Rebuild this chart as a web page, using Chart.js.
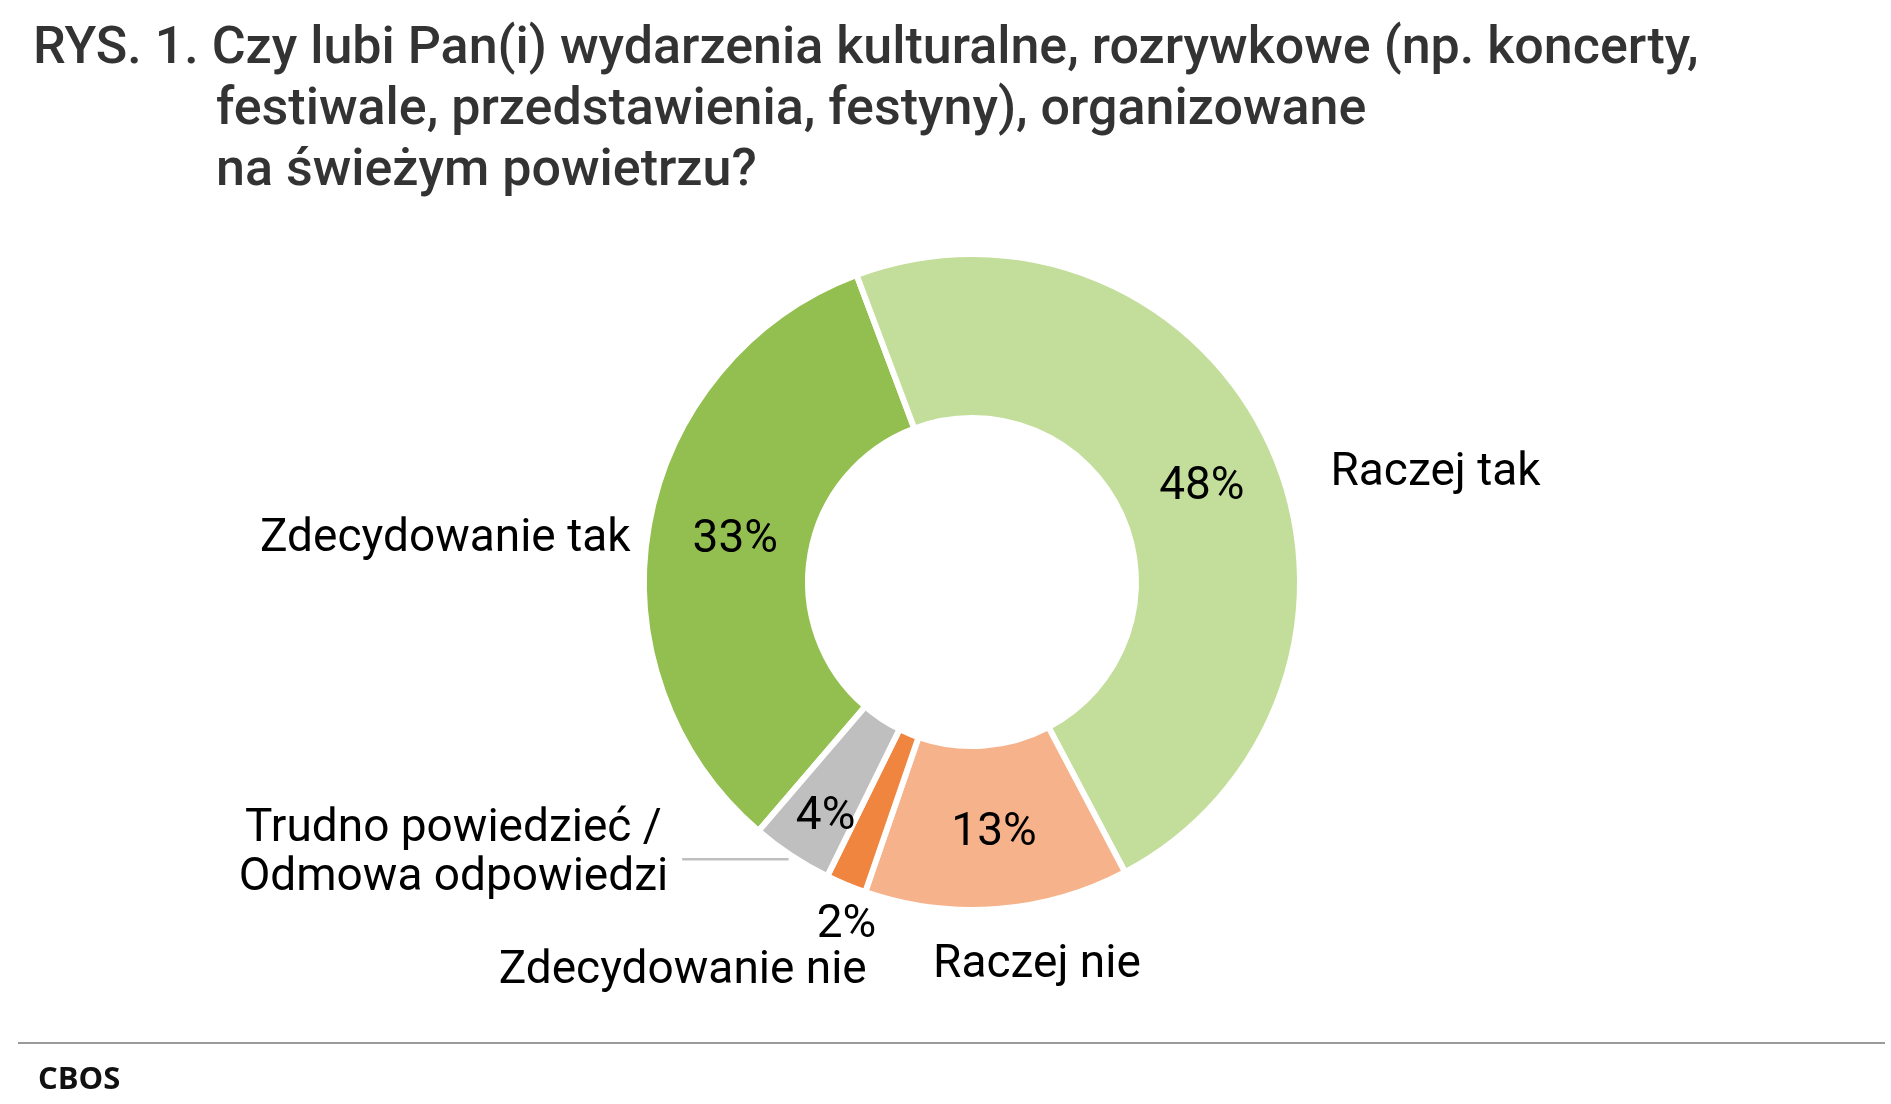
<!DOCTYPE html>
<html lang="pl">
<head>
<meta charset="utf-8">
<title>RYS. 1.</title>
<script src="https://cdn.jsdelivr.net/npm/chart.js@4.4.1/dist/chart.umd.min.js"></script>
<style>
    html, body { margin: 0; padding: 0; background: #fff; }
    #page { position: relative; width: 1891px; height: 1104px; overflow: hidden; }
    #chartBox { position: absolute; left: 0; top: 0; width: 1891px; height: 1104px; }
    .title {
        position: absolute; left: 33px; top: 15px;
        font-family: Roboto, sans-serif; font-weight: 500; font-size: 52px;
        line-height: 61px; color: #333; white-space: nowrap;
    }
    .title .indent { padding-left: 183px; }
    .rule { position: absolute; left: 18px; top: 1042px; width: 1867px; height: 2px; background: #9a9a9a; }
    .source {
        position: absolute; left: 38px; top: 1056px;
        font-family: "Open Sans", sans-serif; font-weight: 700; font-size: 31px; color: #111;
    }
</style>
</head>
<body>
<div id="page">
    <div id="chartBox"><canvas id="donut"></canvas></div>
    <div class="title">
        <div>RYS. 1. Czy lubi Pan(i) wydarzenia kulturalne, rozrywkowe (np. koncerty,</div>
        <div class="indent">festiwale, przedstawienia, festyny), organizowane</div>
        <div class="indent">na świeżym powietrzu?</div>
    </div>
    <div class="rule"></div>
    <div class="source">CBOS</div>
</div>
<script>
// data
const categories = ['Zdecydowanie tak', 'Raczej tak', 'Raczej nie', 'Zdecydowanie nie', 'Trudno powiedzieć / Odmowa odpowiedzi'];
const values = [33, 48, 13, 2, 4];
const sliceColors = ['#92bf4f', '#c3de9a', '#f6b38b', '#f08540', '#bfbfbf'];

// where the texts go (radius units, relative to the centre)
const pctRadius = [0.733, 0.758, 0.769, 1.114, 0.846];
const pctTurn = [0, 1.8, -0.6, -2.5, -1.55]; // degrees off the slice middle
const nameLayout = [
    { dx: -1.041, dy: -0.131, align: 'right', lines: ['Zdecydowanie tak'] },
    { dx: 1.093, dy: -0.332, align: 'left', lines: ['Raczej tak'] },
    { dx: 0.198, dy: 1.169, align: 'center', lines: ['Raczej nie'] },
    { dx: -0.882, dy: 1.187, align: 'center', lines: ['Zdecydowanie nie'] },
    { dx: -1.581, dy: 0.830, align: 'center', lines: ['Trudno powiedzieć /', 'Odmowa odpowiedzi'], leader: 0.845 }
];

const labelPlugin = {
    id: 'donutLabels',
    afterDatasetsDraw(chart) {
        const ctx = chart.ctx;
        const arcs = chart.getDatasetMeta(0).data;
        ctx.save();
        ctx.font = '46px Roboto';
        ctx.fillStyle = '#000';
        ctx.textBaseline = 'middle';
        arcs.forEach(function(arc, i) {
            const p = arc.getProps(['x', 'y', 'startAngle', 'endAngle', 'outerRadius'], true);
            const R = p.outerRadius;
            const mid = (p.startAngle + p.endAngle) / 2 + pctTurn[i] * Math.PI / 180;
            // percentage
            ctx.textAlign = 'center';
            ctx.fillText(values[i] + '%', p.x + Math.cos(mid) * R * pctRadius[i], p.y + Math.sin(mid) * R * pctRadius[i]);
            // category name
            const lay = nameLayout[i];
            const lh = 48.5;
            const x = p.x + lay.dx * R;
            const y0 = p.y + lay.dy * R - (lay.lines.length - 1) * lh / 2;
            ctx.textAlign = lay.align;
            lay.lines.forEach(function(line, j) {
                ctx.fillText(line, x, y0 + j * lh);
            });
            if (lay.leader) {
                let w = 0;
                lay.lines.forEach(function(line) { w = Math.max(w, ctx.measureText(line).width); });
                const ly = p.y + lay.leader * R;
                const ex = p.x - Math.sqrt(R * R - Math.pow(lay.leader * R, 2)) - 8;
                ctx.strokeStyle = '#bfbfbf';
                ctx.lineWidth = 2.5;
                ctx.beginPath();
                ctx.moveTo(x + w / 2 + 14, ly);
                ctx.lineTo(ex, ly);
                ctx.stroke();
            }
        });
        ctx.restore();
    }
};

document.fonts.load('46px Roboto').then(function() {
    const ctx = document.getElementById('donut').getContext('2d');
    new Chart(ctx, {
        type: 'doughnut',
        data: {
            labels: categories,
            datasets: [{
                data: values,
                backgroundColor: sliceColors,
                borderColor: '#ffffff',
                borderWidth: 6,
                hoverOffset: 0,
                hoverBorderWidth: 6
            }]
        },
        options: {
            responsive: true,
            maintainAspectRatio: false,
            animation: false,
            rotation: 220.6,
            cutout: '50%',
            layout: { padding: { left: 641, right: 588, top: 251, bottom: 191 } },
            plugins: {
                legend: { display: false },
                title: { display: false },
                tooltip: { enabled: false }
            },
            events: []
        },
        plugins: [labelPlugin]
    });
});
</script>
</body>
</html>
